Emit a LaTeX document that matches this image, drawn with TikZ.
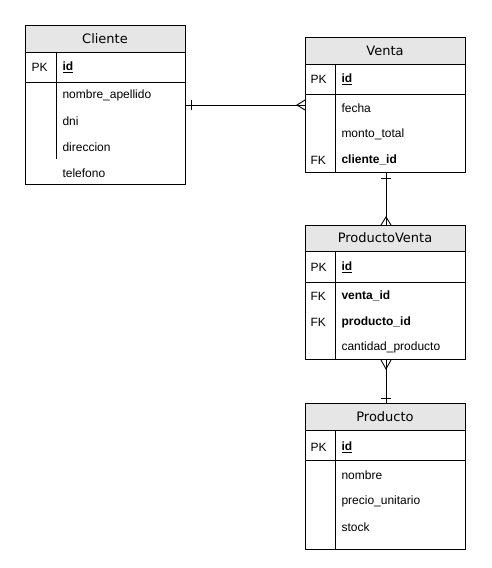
\documentclass[tikz,border=0pt]{standalone}
\usepackage{fontspec}
\setmainfont{Liberation Sans}
\newfontfamily\titlefont{DejaVu Sans}
\definecolor{hdr}{HTML}{E6E6E6}
\begin{document}
\begin{tikzpicture}[x=1pt,y=-1pt,line width=1pt,
  tbl/.style={draw,rectangle,anchor=north west,inner sep=0pt},
  ttl/.style={font=\titlefont\fontsize{13}{15}\selectfont},
  fld/.style={anchor=west,inner sep=0pt,font=\fontsize{12}{14}\selectfont},
  key/.style={anchor=west,inner sep=0pt,font=\fontsize{12}{14}\selectfont},
  rel/.style={draw,line width=0.9pt}]
\useasboundingbox (0,0) rectangle (491,568);
\fill[white] (0,0) rectangle (491,568);
% ---------- Cliente ----------
\fill[hdr] (25,25) rectangle (185,52);
\node[tbl,minimum width=160pt,minimum height=159pt] (cliente) at (25,25) {};
\draw (25,52) -- (185,52) (25,82) -- (185,82) (56,52) -- (56,159);
\node[ttl] (clienteT) at (105,38.5) {Cliente};
\node[key] (clienteK1) at (31,67) {PK};
\node[fld] (clienteF1) at (62,67) {\textbf{\underline{id}}};
\node[fld] (clienteF2) at (62,95) {nombre\_apellido};
\node[fld] (clienteF3) at (62,121) {dni};
\node[fld] (clienteF4) at (62,147) {direccion};
\node[fld] (clienteF5) at (62,173) {telefono};
% ---------- Venta ----------
\fill[hdr] (305,37) rectangle (465,64);
\node[tbl,minimum width=160pt,minimum height=135pt] (venta) at (305,37) {};
\draw (305,64) -- (465,64) (305,94) -- (465,94) (335,64) -- (335,172);
\node[ttl] (ventaT) at (385,50.5) {Venta};
\node[key] (ventaK1) at (310,79) {PK};
\node[fld] (ventaF1) at (341,79) {\textbf{\underline{id}}};
\node[fld] (ventaF2) at (341,108) {fecha};
\node[fld] (ventaF3) at (341,134) {monto\_total};
\node[key] (ventaK2) at (310,160) {FK};
\node[fld] (ventaF4) at (341,160) {\textbf{cliente\_id}};
% ---------- ProductoVenta ----------
\fill[hdr] (305,225) rectangle (465,251);
\node[tbl,minimum width=160pt,minimum height=134pt] (pv) at (305,225) {};
\draw (305,251) -- (465,251) (305,282) -- (465,282) (335,251) -- (335,359);
\node[ttl] (pvT) at (385,238) {ProductoVenta};
\node[key] (pvK1) at (310,267) {PK};
\node[fld] (pvF1) at (341,267) {\textbf{\underline{id}}};
\node[key] (pvK2) at (310,296) {FK};
\node[fld] (pvF2) at (341,296) {\textbf{venta\_id}};
\node[key] (pvK3) at (310,322) {FK};
\node[fld] (pvF3) at (341,322) {\textbf{producto\_id}};
\node[fld] (pvF4) at (341,347) {cantidad\_producto};
% ---------- Producto ----------
\fill[hdr] (305,403) rectangle (465,430);
\node[tbl,minimum width=160pt,minimum height=146pt] (producto) at (305,403) {};
\draw (305,430) -- (465,430) (305,460) -- (465,460) (335,430) -- (335,549);
\node[ttl] (productoT) at (385,417) {Producto};
\node[key] (productoK1) at (310,447) {PK};
\node[fld] (productoF1) at (341,447) {\textbf{\underline{id}}};
\node[fld] (productoF2) at (341,475) {nombre};
\node[fld] (productoF3) at (341,501) {precio\_unitario};
\node[fld] (productoF4) at (341,527) {stock};
% ---------- connectors ----------
\coordinate (a1) at (cliente.north east |- 0,105);
\coordinate (a2) at (venta.north west |- 0,105);
\draw[rel] (a1) -- (a2);
\draw[rel] (a1) ++(5,-5) -- ++(0,10);
\draw[rel] (a2) ++(0,-5) -- ++(-8,5) -- ++(8,5);
\coordinate (b1) at (venta.south west -| 386,0);
\coordinate (b2) at (pv.north west -| 386,0);
\draw[rel] (b1) -- (b2);
\draw[rel] (b1) ++(-5,5) -- ++(10,0);
\draw[rel] (b2) ++(-5,0) -- ++(5,-8) -- ++(5,8);
\coordinate (c1) at (pv.south west -| 386,0);
\coordinate (c2) at (producto.north west -| 386,0);
\draw[rel] (c1) -- (c2);
\draw[rel] (c1) ++(-5,0) -- ++(5,9) -- ++(5,-9);
\draw[rel] (c2) ++(-5,-5) -- ++(10,0);
\end{tikzpicture}
\end{document}
